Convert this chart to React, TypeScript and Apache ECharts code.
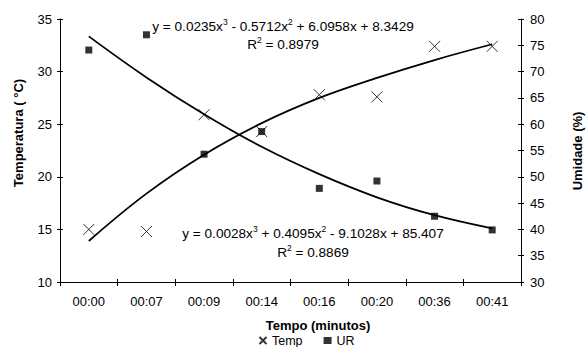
import React, { useEffect, useRef } from "react";
import * as echarts from "echarts";

const categories = ["00:00", "00:07", "00:09", "00:14", "00:16", "00:20", "00:36", "00:41"];
const tempValues = [15.0, 14.8, 25.9, 24.3, 27.8, 27.6, 32.4, 32.4];
const urValues = [74.1, 77.0, 54.3, 58.6, 47.8, 49.2, 42.5, 39.9];
// trend lines at each category
const tempTrend = [13.9, 18.4, 22.1, 25.1, 27.5, 29.4, 31.1, 32.6];
const urTrend = [76.7, 68.9, 61.9, 55.7, 50.5, 46.1, 42.7, 40.2];

const tempEquation = ["y = 0.0235x", "3", " - 0.5712x", "2", " + 6.0958x + 8.3429"];
const tempR2 = "0.8979";
const urEquation = ["y = 0.0028x", "3", " + 0.4095x", "2", " - 9.1028x + 85.407"];
const urR2 = "0.8869";

const FONT = "Liberation Sans, Arial, sans-serif";
const CROSS = "path://M0,0L10,10M10,0L0,10";

function eqText(parts: string[]) {
  return parts.map((p, i) => (i % 2 === 0 ? `{a|${p}}` : `{b|${p}}`)).join("");
}

const rich = {
  a: { fontSize: 13.6, fontFamily: FONT, fill: "#000", color: "#000" },
  b: { fontSize: 8.5, fontFamily: FONT, fill: "#000", color: "#000", padding: [0, 0, 8, 0] },
};

export default function App() {
  const ref = useRef<HTMLDivElement>(null);
  useEffect(() => {
    const chart = echarts.init(ref.current!, null, { renderer: "svg" });
    const axisLine = { show: true, lineStyle: { color: "#000", width: 1 } };
    const label = { color: "#000", fontSize: 13, fontFamily: FONT };
    chart.setOption({
      animation: false,
      backgroundColor: "#fff",
      grid: { left: 60, right: 65, top: 19, bottom: 65 },
      xAxis: [
        {
          type: "category",
          data: categories,
          boundaryGap: true,
          axisLine,
          axisTick: { show: true, length: 4, lineStyle: { color: "#000" } },
          axisLabel: { ...label, margin: 13 },
          splitLine: { show: false },
        },
        {
          type: "category",
          data: categories,
          position: "bottom",
          boundaryGap: true,
          axisLine: { show: false },
          axisTick: { show: true, inside: true, length: 3, lineStyle: { color: "#000" } },
          axisLabel: { show: false },
          splitLine: { show: false },
        },
      ],
      yAxis: [
        {
          type: "value", position: "left", min: 10, max: 35, interval: 5,
          axisLine, axisTick: { show: true, length: 3, lineStyle: { color: "#000" } },
          axisLabel: { ...label, margin: 8 }, splitLine: { show: false },
        },
        {
          type: "value", position: "right", min: 30, max: 80, interval: 5,
          axisLine, axisTick: { show: true, length: 3, lineStyle: { color: "#000" } },
          axisLabel: { ...label, margin: 9 }, splitLine: { show: false },
        },
        {
          type: "value", position: "left", min: 10, max: 35, interval: 5,
          axisLine: { show: false }, axisTick: { show: true, inside: true, length: 3, lineStyle: { color: "#000" } },
          axisLabel: { show: false }, splitLine: { show: false },
        },
        {
          type: "value", position: "right", min: 30, max: 80, interval: 5,
          axisLine: { show: false }, axisTick: { show: true, inside: true, length: 3, lineStyle: { color: "#000" } },
          axisLabel: { show: false }, splitLine: { show: false },
        },
      ],
      legend: {
        left: 257,
        top: 334,
        itemWidth: 8,
        itemHeight: 7,
        itemGap: 21,
        padding: 0,
        textStyle: { color: "#000", fontSize: 12.5, fontFamily: FONT },
        data: [
          { name: "Temp", icon: CROSS },
          { name: "UR", icon: "rect" },
        ],
      },
      series: [
        {
          name: "TempTrend", type: "line", data: tempTrend, yAxisIndex: 0, smooth: 0.4,
          showSymbol: false, lineStyle: { color: "#000", width: 1.8 }, z: 1,
        },
        {
          name: "URTrend", type: "line", data: urTrend, yAxisIndex: 1, smooth: 0.4,
          showSymbol: false, lineStyle: { color: "#000", width: 1.8 }, z: 1,
        },
        {
          name: "Temp", type: "scatter", data: tempValues, yAxisIndex: 0,
          symbol: CROSS, symbolSize: 11,
          itemStyle: { color: "none", borderColor: "#000", borderWidth: 1 }, z: 3,
        },
        {
          name: "UR", type: "scatter", data: urValues, yAxisIndex: 1,
          symbol: "rect", symbolSize: 7, itemStyle: { color: "#000" }, z: 3,
        },
      ],
      graphic: [
        {
          type: "text", x: 283, y: 26,
          style: { text: eqText(tempEquation), rich, align: "center", verticalAlign: "middle", font: `13.6px ${FONT}`, fill: "#000" },
        },
        {
          type: "text", x: 283, y: 44,
          style: { text: eqText(["R", "2", ` = ${tempR2}`]), rich, align: "center", verticalAlign: "middle", font: `13.6px ${FONT}`, fill: "#000" },
        },
        {
          type: "text", x: 313, y: 233,
          style: { text: eqText(urEquation), rich, align: "center", verticalAlign: "middle", font: `13.6px ${FONT}`, fill: "#000" },
        },
        {
          type: "text", x: 313, y: 252,
          style: { text: eqText(["R", "2", ` = ${urR2}`]), rich, align: "center", verticalAlign: "middle", font: `13.6px ${FONT}`, fill: "#000" },
        },
        {
          type: "text", x: 18, y: 133, rotation: Math.PI / 2,
          style: { text: "Temperatura ( °C)", align: "center", verticalAlign: "middle", font: `bold 13px ${FONT}`, fill: "#000" },
        },
        {
          type: "text", x: 577, y: 151, rotation: Math.PI / 2,
          style: { text: "Umidade (%)", align: "center", verticalAlign: "middle", font: `bold 13px ${FONT}`, fill: "#000" },
        },
        {
          type: "text", x: 318, y: 325,
          style: { text: "Tempo (minutos)", align: "center", verticalAlign: "middle", font: `bold 13px ${FONT}`, fill: "#000" },
        },
      ],
    });
    return () => chart.dispose();
  }, []);
  return (
    <div
      ref={ref}
      style={{ position: "fixed", left: 0, top: 0, width: 586, height: 347, background: "#fff" }}
    />
  );
}
